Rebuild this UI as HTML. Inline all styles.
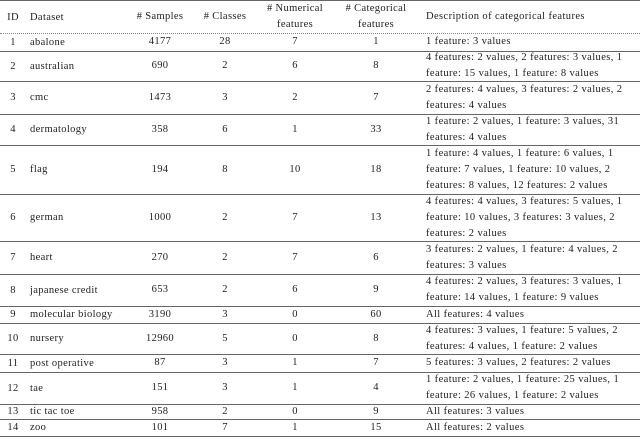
<!DOCTYPE html>
<html><head><meta charset="utf-8"><style>
body{margin:0;width:640px;height:439px;background:#fff;font-family:"Liberation Serif",serif;font-size:10.5px;letter-spacing:0.35px;color:#222;position:relative;overflow:hidden}
.l{position:absolute;left:0;width:640px;height:0;border-top:1.5px solid #666}
.r{position:absolute;left:0;width:640px;display:flex;align-items:center}
.c{position:absolute;text-align:center;width:80px;line-height:16px}
.d{position:absolute;left:426px;line-height:16px;white-space:nowrap;letter-spacing:0.4px}
.n{position:absolute;left:30px}
.i{position:absolute;left:3px;width:20px;text-align:center}
</style></head><body>
<div class="l" style="top:0"></div>
<div class="l" style="top:33px;border-top:1px dotted #888"></div>
<div class="l" style="top:51px"></div>
<div class="l" style="top:81px"></div>
<div class="l" style="top:114px"></div>
<div class="l" style="top:145px"></div>
<div class="l" style="top:194px"></div>
<div class="l" style="top:241px"></div>
<div class="l" style="top:274px"></div>
<div class="l" style="top:306px"></div>
<div class="l" style="top:323px"></div>
<div class="l" style="top:354px"></div>
<div class="l" style="top:372px"></div>
<div class="l" style="top:404px"></div>
<div class="l" style="top:419px"></div>
<div class="l" style="top:436px"></div>

<div class="r" style="top:1px;height:32px">
<span class="i">ID</span><span class="n">Dataset</span>
<span class="c" style="left:120px"># Samples</span><span class="c" style="left:185px"># Classes</span>
<span class="c" style="left:255px"># Numerical<br>features</span><span class="c" style="left:336px"># Categorical<br>features</span>
<span class="d">Description of categorical features</span></div>

<div class="r" style="top:33px;height:18px"><span class="i">1</span><span class="n">abalone</span><span class="c" style="left:120px">4177</span><span class="c" style="left:185px">28</span><span class="c" style="left:255px">7</span><span class="c" style="left:336px">1</span><span class="d">1 feature: 3 values</span></div>
<div class="r" style="top:51px;height:30px"><span class="i">2</span><span class="n">australian</span><span class="c" style="left:120px">690</span><span class="c" style="left:185px">2</span><span class="c" style="left:255px">6</span><span class="c" style="left:336px">8</span><span class="d">4 features: 2 values, 2 features: 3 values, 1<br>feature: 15 values, 1 feature: 8 values</span></div>
<div class="r" style="top:81px;height:33px"><span class="i">3</span><span class="n">cmc</span><span class="c" style="left:120px">1473</span><span class="c" style="left:185px">3</span><span class="c" style="left:255px">2</span><span class="c" style="left:336px">7</span><span class="d">2 features: 4 values, 3 features: 2 values, 2<br>features: 4 values</span></div>
<div class="r" style="top:114px;height:31px"><span class="i">4</span><span class="n">dermatology</span><span class="c" style="left:120px">358</span><span class="c" style="left:185px">6</span><span class="c" style="left:255px">1</span><span class="c" style="left:336px">33</span><span class="d">1 feature: 2 values, 1 feature: 3 values, 31<br>features: 4 values</span></div>
<div class="r" style="top:145px;height:49px"><span class="i">5</span><span class="n">flag</span><span class="c" style="left:120px">194</span><span class="c" style="left:185px">8</span><span class="c" style="left:255px">10</span><span class="c" style="left:336px">18</span><span class="d">1 feature: 4 values, 1 feature: 6 values, 1<br>feature: 7 values, 1 feature: 10 values, 2<br>features: 8 values, 12 features: 2 values</span></div>
<div class="r" style="top:194px;height:47px"><span class="i">6</span><span class="n">german</span><span class="c" style="left:120px">1000</span><span class="c" style="left:185px">2</span><span class="c" style="left:255px">7</span><span class="c" style="left:336px">13</span><span class="d">4 features: 4 values, 3 features: 5 values, 1<br>feature: 10 values, 3 features: 3 values, 2<br>features: 2 values</span></div>
<div class="r" style="top:241px;height:33px"><span class="i">7</span><span class="n">heart</span><span class="c" style="left:120px">270</span><span class="c" style="left:185px">2</span><span class="c" style="left:255px">7</span><span class="c" style="left:336px">6</span><span class="d">3 features: 2 values, 1 feature: 4 values, 2<br>features: 3 values</span></div>
<div class="r" style="top:274px;height:32px"><span class="i">8</span><span class="n">japanese credit</span><span class="c" style="left:120px">653</span><span class="c" style="left:185px">2</span><span class="c" style="left:255px">6</span><span class="c" style="left:336px">9</span><span class="d">4 features: 2 values, 3 features: 3 values, 1<br>feature: 14 values, 1 feature: 9 values</span></div>
<div class="r" style="top:306px;height:17px"><span class="i">9</span><span class="n">molecular biology</span><span class="c" style="left:120px">3190</span><span class="c" style="left:185px">3</span><span class="c" style="left:255px">0</span><span class="c" style="left:336px">60</span><span class="d">All features: 4 values</span></div>
<div class="r" style="top:323px;height:31px"><span class="i">10</span><span class="n">nursery</span><span class="c" style="left:120px">12960</span><span class="c" style="left:185px">5</span><span class="c" style="left:255px">0</span><span class="c" style="left:336px">8</span><span class="d">4 features: 3 values, 1 feature: 5 values, 2<br>features: 4 values, 1 feature: 2 values</span></div>
<div class="r" style="top:354px;height:18px"><span class="i">11</span><span class="n">post operative</span><span class="c" style="left:120px">87</span><span class="c" style="left:185px">3</span><span class="c" style="left:255px">1</span><span class="c" style="left:336px">7</span><span class="d">5 features: 3 values, 2 features: 2 values</span></div>
<div class="r" style="top:372px;height:32px"><span class="i">12</span><span class="n">tae</span><span class="c" style="left:120px">151</span><span class="c" style="left:185px">3</span><span class="c" style="left:255px">1</span><span class="c" style="left:336px">4</span><span class="d">1 feature: 2 values, 1 feature: 25 values, 1<br>feature: 26 values, 1 feature: 2 values</span></div>
<div class="r" style="top:404px;height:15px"><span class="i">13</span><span class="n">tic tac toe</span><span class="c" style="left:120px">958</span><span class="c" style="left:185px">2</span><span class="c" style="left:255px">0</span><span class="c" style="left:336px">9</span><span class="d">All features: 3 values</span></div>
<div class="r" style="top:419px;height:17px"><span class="i">14</span><span class="n">zoo</span><span class="c" style="left:120px">101</span><span class="c" style="left:185px">7</span><span class="c" style="left:255px">1</span><span class="c" style="left:336px">15</span><span class="d">All features: 2 values</span></div>
</body></html>
